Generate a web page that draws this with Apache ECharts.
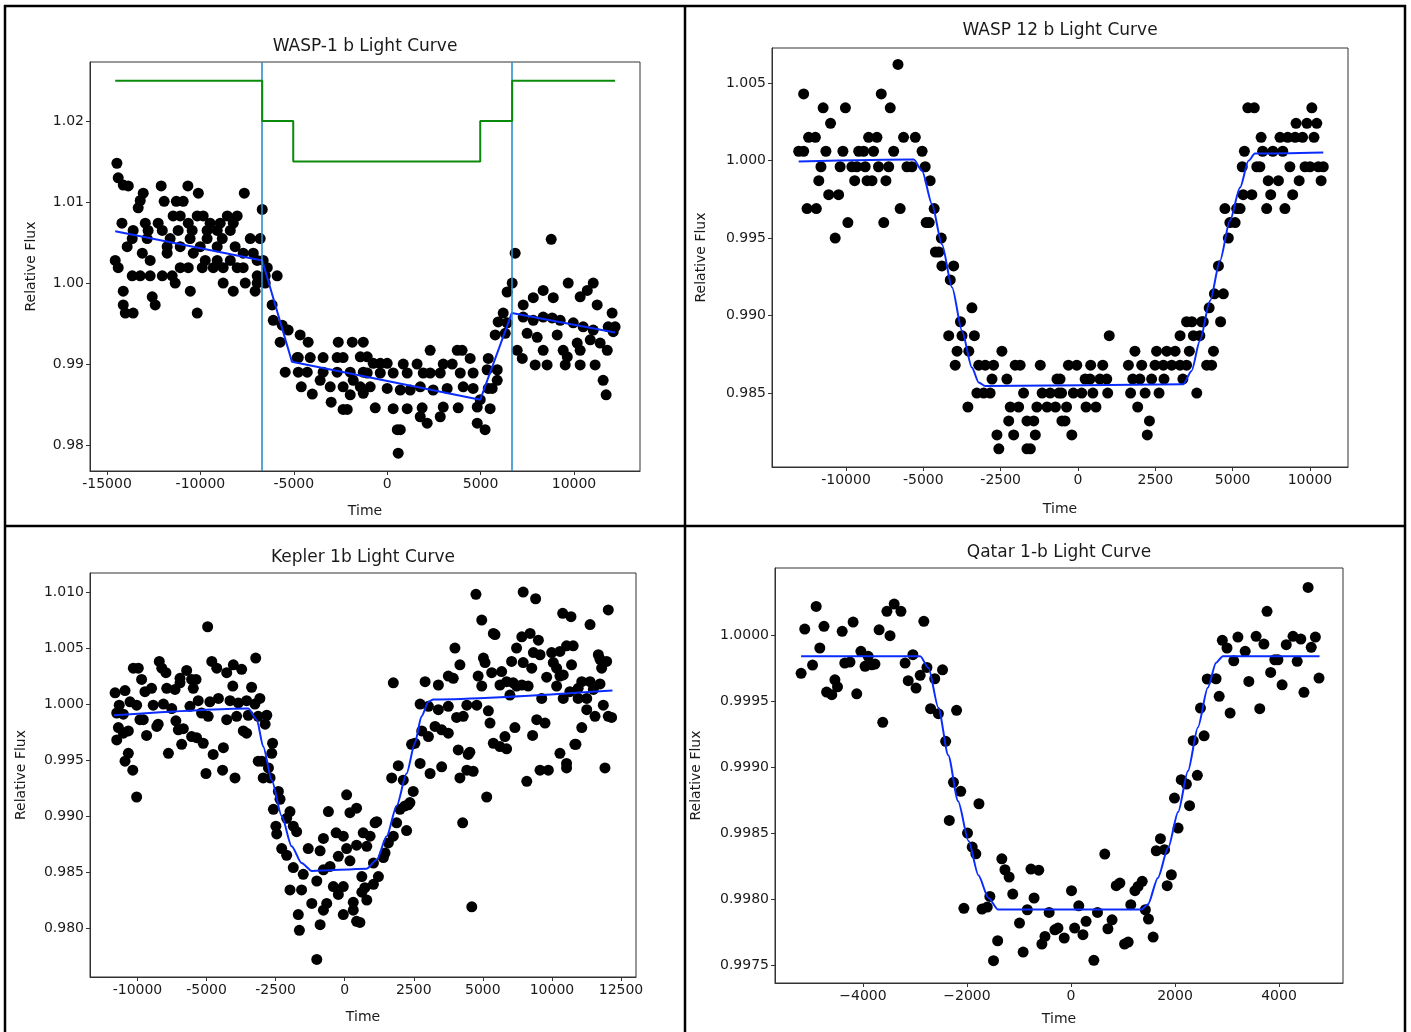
<!DOCTYPE html>
<html><head><meta charset="utf-8">
<script src="https://cdn.jsdelivr.net/npm/echarts@6/dist/echarts.min.js"></script>
<style>html,body{margin:0;padding:0;background:#fff}#c{width:1411px;height:1032px}</style>
</head><body><div id="c"></div>
<script>
// ---------- Panel 1: WASP-1 b ----------
const wasp1Title = 'WASP-1 b Light Curve';
const wasp1Points = [
[-14470,1.0148],[-14400,1.0130],[-14130,1.0121],[-13860,1.0120],[-12100,1.0120],[-10670,1.0120],
[-13060,1.0111],[-10110,1.0111],[-7650,1.0111],[-13220,1.0102],[-13330,1.0093],
[-11940,1.0101],[-11290,1.0101],[-10920,1.0101],[-6690,1.0091],
[-11460,1.0083],[-11080,1.0083],[-10170,1.0083],[-9850,1.0083],[-8560,1.0083],[-8030,1.0083],
[-14200,1.0074],[-12950,1.0074],[-12260,1.0074],[-10650,1.0074],[-9480,1.0074],[-8940,1.0074],[-8240,1.0074],
[-13600,1.0065],[-12800,1.0065],[-12040,1.0065],[-11190,1.0065],[-10440,1.0065],[-9640,1.0065],[-9100,1.0065],[-8400,1.0065],
[-13650,1.0055],[-12850,1.0055],[-11620,1.0055],[-10550,1.0055],[-9640,1.0055],[-8830,1.0055],[-7330,1.0055],[-6800,1.0055],
[-13920,1.0045],[-11780,1.0045],[-11080,1.0045],[-10010,1.0045],[-9100,1.0045],[-8140,1.0045],
[-13110,1.0037],[-11780,1.0037],[-10380,1.0037],[-7710,1.0037],[-7170,1.0037],
[-14560,1.0028],[-12690,1.0028],[-9740,1.0028],[-9100,1.0028],[-8400,1.0028],[-6960,1.0028],[-6640,1.0028],
[-14400,1.0019],[-11080,1.0019],[-10650,1.0019],[-9900,1.0019],[-9310,1.0019],[-8780,1.0019],[-8030,1.0019],[-7710,1.0019],[-6420,1.0019],
[-13650,1.0009],[-13220,1.0009],[-12690,1.0009],[-12040,1.0009],[-11510,1.0009],[-6960,1.0009],[-6530,1.0009],[-5890,1.0009],
[-11350,1.0000],[-8780,1.0000],[-7600,1.0000],[-6960,1.0000],[-6530,1.0000],
[-14130,0.9990],[-10540,0.9990],[-8240,0.9990],[-7070,0.9990],
[-12580,0.9983],[-12420,0.9973],[-14130,0.9973],[-14020,0.9963],[-13600,0.9963],[-10170,0.9963],[-6160,0.9973],
[-6100,0.9954],[-5620,0.9948],[-5300,0.9942],[-5730,0.9927],[-4660,0.9936],[-4230,0.9927],
[-4760,0.9908],[-4820,0.9908],[-4120,0.9908],[-3430,0.9908],[-2680,0.9908],[-2360,0.9908],
[-2620,0.9927],[-1870,0.9927],[-1280,0.9927],
[-5460,0.9890],[-4760,0.9890],[-4280,0.9890],[-3430,0.9890],[-2680,0.9890],[-1980,0.9890],[-1280,0.9890],
[-3590,0.9880],[-3050,0.9872],[-2360,0.9872],[-1820,0.9880],
[-4600,0.9872],[-4010,0.9863],[-3000,0.9853],[-2360,0.9844],[-2140,0.9844],[-1980,0.9862],[-1280,0.9864],
[-1440,0.9909],[-1070,0.9909],[-750,0.9901],[-370,0.9901],[0,0.9901],
[860,0.9900],[1600,0.9900],[3000,0.9900],[3480,0.9900],
[2300,0.9917],[3750,0.9917],[4010,0.9917],[4440,0.9907],
[5410,0.9907],[5350,0.9893],[5890,0.9893],[5890,0.9880],[5410,0.9870],[5620,0.9870],
[-1070,0.9889],[-370,0.9889],[320,0.9889],[1070,0.9889],[1930,0.9889],[2300,0.9889],[2840,0.9889],[3910,0.9889],[4600,0.9889],
[-1440,0.9872],[-910,0.9872],[0,0.9870],[700,0.9868],[1230,0.9868],[1770,0.9872],[2460,0.9868],[3210,0.9870],[4070,0.9872],[4600,0.9870],[4980,0.9856],
[-640,0.9846],[320,0.9845],[1070,0.9845],[1870,0.9846],[3000,0.9847],[3800,0.9846],[4820,0.9847],[5510,0.9845],
[1770,0.9835],[2140,0.9827],[2840,0.9835],[4820,0.9827],[5240,0.9819],[540,0.9819],[700,0.9819],[590,0.9790],
[6850,1.0037],[8780,1.0054],[6690,1.0000],[6420,0.9989],
[7280,0.9973],[7820,0.9982],[8350,0.9991],[8890,0.9982],[9690,1.0000],[10330,0.9983],[10710,0.9991],[11030,1.0000],[11240,0.9973],[12040,0.9963],[12200,0.9946],
[6210,0.9963],[5940,0.9952],[6420,0.9951],[5780,0.9936],[6320,0.9938],
[7280,0.9958],[7820,0.9954],[8350,0.9958],[8830,0.9957],[9260,0.9954],[9960,0.9951],[10490,0.9946],[11030,0.9942],[11830,0.9946],[12100,0.9940],
[7490,0.9938],[8030,0.9933],[9100,0.9936],[10170,0.9926],[10870,0.9930],[11400,0.9926],
[6960,0.9917],[7230,0.9907],[8350,0.9917],[9420,0.9917],[9640,0.9909],[10330,0.9917],[11780,0.9917],
[7920,0.9899],[8560,0.9899],[9530,0.9899],[10330,0.9899],[11130,0.9899],[11560,0.9880],[11720,0.9862]
];
const wasp1Model = [[-14560,1.0064],[-6690,1.0028],[-5100,0.9903],[4980,0.9856],[6670,0.9963],[12200,0.9939]];
const wasp1Phases = [[-14560,1.025],[-6690,1.025],[-6690,1.020],[-5030,1.020],[-5030,1.015],[4980,1.015],[4980,1.020],[6690,1.020],[6690,1.025],[12200,1.025]];
const wasp1Contacts = [-6690, 6690];
const wasp1XTicks = [-15000,-10000,-5000,0,5000,10000];
const wasp1YTicks = [0.98,0.99,1.00,1.01,1.02];

// ---------- Panel 2: WASP 12 b ----------
const wasp12Title = 'WASP 12 b Light Curve';
const wasp12Points = [
[-8870,1.0043],[-6360,1.0043],[-5820,1.0062],[-8240,1.0034],[-7520,1.0034],[-6070,1.0034],[-8000,1.0024],
[-8710,1.0015],[-8490,1.0015],[-6770,1.0015],[-6500,1.0015],[-5640,1.0015],[-5260,1.0015],
[-9030,1.0006],[-8870,1.0006],[-8150,1.0006],[-7600,1.0006],[-7090,1.0006],[-6930,1.0006],[-6610,1.0006],[-5960,1.0006],[-5040,1.0006],
[-8310,0.9996],[-7690,0.9996],[-7310,0.9996],[-7150,0.9996],[-6880,0.9996],[-6450,0.9996],[-6120,0.9996],[-5530,0.9996],[-5370,0.9996],[-4940,0.9996],
[-8380,0.9987],[-7220,0.9987],[-6820,0.9987],[-6660,0.9987],[-6210,0.9987],[-4780,0.9987],
[-8060,0.9978],[-7740,0.9978],[-8760,0.9969],[-8460,0.9969],[-5750,0.9969],[-4650,0.9969],
[-7440,0.9960],[-6280,0.9960],[-4910,0.9960],[-4810,0.9960],[-7850,0.9950],[-4420,0.9950],
[-4610,0.9941],[-4500,0.9941],[-4400,0.9932],[-4020,0.9932],[-4130,0.9923],[-3430,0.9905],[-3800,0.9896],
[-4180,0.9887],[-3750,0.9887],[-3350,0.9887],[-3910,0.9877],[-3530,0.9877],[-2460,0.9877],
[-3970,0.9868],[-3210,0.9868],[-3000,0.9868],[-2730,0.9868],[-2030,0.9868],[-1870,0.9868],[-1220,0.9868],
[-2780,0.9859],[-2300,0.9859],[-680,0.9859],
[-3270,0.9850],[-3050,0.9850],[-2840,0.9850],[-1760,0.9850],[-1160,0.9850],[-900,0.9850],[-620,0.9850],
[-3560,0.9841],[-2190,0.9841],[-1920,0.9841],[-1330,0.9841],[-1000,0.9841],[-730,0.9841],
[-2240,0.9832],[-1650,0.9832],[-1430,0.9832],[-520,0.9832],[-2620,0.9823],[-2080,0.9823],[-1380,0.9823],
[-2560,0.9814],[-1650,0.9814],[-1540,0.9814],
[-200,0.9823],[2240,0.9823],[-420,0.9832],[2310,0.9832],[-370,0.9841],[260,0.9841],[580,0.9841],[1930,0.9841],
[-530,0.9850],[-150,0.9850],[120,0.9850],[480,0.9850],[960,0.9850],[1700,0.9850],[2170,0.9850],[2620,0.9850],[3840,0.9850],
[-580,0.9859],[230,0.9859],[390,0.9859],[710,0.9859],[930,0.9859],[1770,0.9859],[2000,0.9859],[2380,0.9859],[2780,0.9859],[3390,0.9859],
[-310,0.9868],[-40,0.9868],[410,0.9868],[800,0.9868],[1630,0.9868],[2060,0.9868],[2490,0.9868],[2760,0.9868],[3030,0.9868],[3300,0.9868],[3510,0.9868],[4160,0.9868],[4320,0.9868],
[1840,0.9877],[2540,0.9877],[2870,0.9877],[3140,0.9877],[3600,0.9877],[4380,0.9877],
[1010,0.9887],[3300,0.9887],[3730,0.9887],[3940,0.9887],
[3510,0.9896],[3680,0.9896],[4000,0.9896],[4050,0.9896],[4610,0.9896],
[4240,0.9905],[4410,0.9914],[4700,0.9914],[4540,0.9932],[4860,0.9950],[4910,0.9960],[5080,0.9960],
[4750,0.9969],[5130,0.9969],[5240,0.9969],[6100,0.9969],[6690,0.9969],
[5340,0.9978],[5620,0.9978],[6230,0.9978],[6940,0.9978],
[6150,0.9987],[6480,0.9987],[7150,0.9987],[7860,0.9987],
[5310,0.9996],[5780,0.9996],[5880,0.9996],[6850,0.9996],[7340,0.9996],[7500,0.9996],[7770,0.9996],[7930,0.9996],
[5380,1.0006],[5970,1.0006],[6300,1.0006],[6620,1.0006],
[5920,1.0015],[6530,1.0015],[6780,1.0015],[7020,1.0015],[7260,1.0015],[7630,1.0015],
[7050,1.0024],[7400,1.0024],[7720,1.0024],[5490,1.0034],[5700,1.0034],[7560,1.0034]
];
const wasp12Model = [[-9030,0.99994],[-5310,1.00006],[-5040,0.99933],[-4720,0.99718],[-4400,0.99460],[-4070,0.99181],[-3750,0.98901],[-3430,0.98665],[-3210,0.98568],[-3000,0.98545],[3400,0.98557],[3670,0.98643],[3940,0.98837],[4270,0.99095],[4590,0.99353],[4910,0.99611],[5240,0.99826],[5510,0.99998],[5720,1.00045],[7930,1.00052]];
const wasp12XTicks = [-7500,-5000,-2500,0,2500,5000,7500];
const wasp12XLabels = ['-10000','-5000','-2500','0','2500','5000','10000'];
const wasp12YTicks = [0.985,0.990,0.995,1.000,1.005];

// ---------- Panel 3: Kepler 1b ----------
const kepler1Title = 'Kepler 1b Light Curve';
const kepler1Points = [
[-4960,1.0069],[-7650,1.0032],[-7470,1.0032],[-6710,1.0038],[-6620,1.0032],[-6470,1.0028],
[-5720,1.0030],[-5960,1.0023],[-5540,1.0022],[-5380,1.0022],[-7350,1.0022],
[-4810,1.0038],[-4630,1.0032],[-4270,1.0028],[-4030,1.0035],[-3730,1.0031],[-3220,1.0041],
[-8310,1.0010],[-7950,1.0012],[-7230,1.0011],[-6990,1.0014],[-6440,1.0014],[-6140,1.0013],[-5960,1.0019],[-5480,1.0014],
[-4050,1.0016],[-3370,1.0015],[-3070,1.0005],
[-8160,0.9999],[-7770,1.0002],[-7530,0.9999],[-6930,0.9999],[-6560,1.0000],[-6260,0.9996],
[-5600,0.9998],[-5300,1.0003],[-4880,1.0002],[-4570,1.0005],[-4150,1.0003],[-3850,1.0001],[-3550,1.0003],[-3250,1.0000],
[-8250,0.9992],[-8010,0.9991],[-7410,0.9986],[-7290,0.9986],[-6800,0.9980],[-6750,0.9982],[-6110,0.9985],[-5840,0.9978],[-5540,0.9971],
[-5180,0.9992],[-4940,0.9989],[-4270,0.9986],[-3910,0.9989],[-3490,0.9990],[-3130,0.9989],[-2820,0.9990],
[-8190,0.9979],[-8010,0.9974],[-7830,0.9976],[-7170,0.9972],[-6020,0.9977],[-5360,0.9970],[-5120,0.9965],[-3670,0.9976],[-3550,0.9974],[-2880,0.9982],
[-8250,0.9968],[-5900,0.9964],[-6380,0.9956],[-7830,0.9956],[-7950,0.9949],[-7670,0.9941],[-7530,0.9917],
[-4760,0.9955],[-4390,0.9961],[-5020,0.9938],[-4420,0.9941],[-3970,0.9934],
[-2610,0.9965],[-2640,0.9956],[-3130,0.9949],[-3000,0.9949],[-2760,0.9943],[-2950,0.9934],[-2700,0.9934],
[-2400,0.9922],[-2340,0.9915],[-2580,0.9906],[-1980,0.9904],[-2490,0.9891],[-2100,0.9898],[-1860,0.9891],[-1740,0.9886],
[-2460,0.9884],[-2280,0.9871],[-2100,0.9865],[-1860,0.9854],[-1500,0.9848],[-1980,0.9834],[-1560,0.9834],
[-1680,0.9812],[-1640,0.9798],[-1190,0.9822],[-890,0.9803],[-1010,0.9772],
[-1320,0.9871],[-890,0.9869],[-770,0.9852],[-1010,0.9842],[-530,0.9855],
[-770,0.9880],[-310,0.9885],[70,0.9919],[-590,0.9904],[190,0.9903],[430,0.9907],
[-50,0.9882],[70,0.9871],[430,0.9874],[-230,0.9864],[190,0.9860],
[-410,0.9837],[-50,0.9837],[-230,0.9830],[-650,0.9822],[310,0.9823],[-770,0.9816],[-50,0.9812],[430,0.9806],
[670,0.9885],[620,0.9846],[620,0.9832],[310,0.9816],
[4750,1.0098],[6460,1.0100],[6910,1.0094],[4960,1.0075],[5380,1.0063],[5440,1.0062],[3990,1.0050],[4170,1.0035],[1760,1.0019],
[2910,1.0020],[3390,1.0017],[3750,1.0025],[3930,1.0023],
[4830,1.0025],[4960,1.0016],[5320,1.0028],[5680,1.0029],[5860,1.0020],[6100,1.0019],[6410,1.0017],[6640,1.0016],
[5020,1.0041],[5080,1.0037],[6040,1.0038],[6220,1.0050],[6410,1.0060],[6710,1.0063],[7010,1.0057],[6460,1.0037],[6770,1.0032],
[6830,1.0046],[7070,1.0044],[7490,1.0046],[7790,1.0047],[8030,1.0052],[8270,1.0052],[7550,1.0037],[7670,1.0032],[7910,1.0026],[8210,1.0035],[7310,1.0024],
[7890,1.0081],[8190,1.0078],[8880,1.0071],[9540,1.0084],
[9180,1.0044],[9480,1.0038],[9300,1.0032],[9240,1.0040],
[7790,1.0025],[8580,1.0020],[8880,1.0020],[9240,1.0018],[8450,1.0014],[9000,1.0013],
[8150,1.0011],[7910,1.0005],[8450,1.0005],[8760,1.0005],[9360,0.9999],[7130,1.0005],
[7670,1.0016],[5980,1.0008],[5620,1.0017],[6220,1.0016],
[8760,0.9995],[9060,0.9989],[9540,0.9989],[9660,0.9988],
[6950,0.9986],[7250,0.9983],[6160,0.9979],[6800,0.9972],[8580,0.9979],
[5380,0.9965],[5800,0.9971],[5620,0.9962],[5860,0.9960],[8370,0.9964],[7790,0.9956],
[2730,1.0000],[3030,0.9998],[3390,0.9995],[3750,0.9998],[2790,0.9976],[3030,0.9971],[3270,0.9980],[3510,0.9977],[3750,0.9974],[4290,0.9989],[4050,0.9988],[4420,0.9999],[4780,0.9999],[5200,0.9994],[5260,0.9983],
[2420,0.9964],[2540,0.9965],[2730,0.9947],[3090,0.9938],[4110,0.9959],[4530,0.9957],[4470,0.9955],[3510,0.9944],[4170,0.9934],[4420,0.9941],[4650,0.9940],
[6590,0.9931],[7070,0.9941],[7370,0.9941],[8030,0.9947],[8030,0.9943],[8330,0.9964],[9420,0.9943],
[5140,0.9917],[4270,0.9894],[4600,0.9819],
[1940,0.9945],[1700,0.9934],[2120,0.9932],[2480,0.9922],[2300,0.9910],[2360,0.9912],[2180,0.9909],[2000,0.9906],[1880,0.9894],[2240,0.9887],
[1760,0.9882],[1580,0.9876],[1460,0.9867],[1400,0.9863],[1160,0.9895],[1100,0.9894],[920,0.9882],[800,0.9873],[1040,0.9858],[1220,0.9846],
[1040,0.9839],[730,0.9836],[800,0.9825],[550,0.9805]
];
const kepler1Model = [[-8350,0.9990],[-3490,0.9996],[-3180,0.9986],[-2950,0.9962],[-2640,0.9932],[-2280,0.9900],[-1920,0.9873],[-1560,0.9858],[-1190,0.9851],[800,0.9853],[1160,0.9861],[1520,0.9882],[1880,0.9909],[2240,0.9938],[2540,0.9965],[2780,0.9989],[3030,1.0002],[3210,1.0004],[9690,1.0012]];
const kepler1XTicks = [-7500,-5000,-2500,0,2500,5000,7500,10000];
const kepler1XLabels = ['-10000','-5000','-2500','0','2500','5000','10000','12500'];
const kepler1YTicks = [0.980,0.985,0.990,0.995,1.000,1.005,1.010];

// ---------- Panel 4: Qatar 1-b ----------
const qatar1Title = 'Qatar 1-b Light Curve';
const qatar1Points = [
[-4900,1.000217],[-5120,1.000045],[-4750,1.000066],[-4400,1.000028],[-4190,1.000098],[-4830,0.999902],[-4970,0.999773],[-5190,0.999710],
[-4350,0.999788],[-4250,0.999795],[-4040,0.999877],[-3960,0.999763],[-3830,0.999775],[-3770,0.999780],[-3900,0.999839],
[-4540,0.999661],[-4490,0.999608],[-4700,0.999568],[-4600,0.999548],[-4120,0.999555],[-3620,0.999339],
[-3690,1.000040],[-3480,0.999995],[-3540,1.000180],[-3400,1.000235],[-3270,1.000180],[-2830,1.000104],
[-3190,0.999788],[-3040,0.999851],[-3130,0.999654],[-2980,0.999598],[-2900,0.999695],
[-2770,0.999755],[-2620,0.999669],[-2470,0.999737],[-2700,0.999442],[-2550,0.999404],[-2200,0.999430],
[-2410,0.999195],[-2260,0.998884],[-2120,0.998816],[-1770,0.998722],[-2340,0.998596],
[-1990,0.998500],[-1900,0.998394],[-1830,0.998343],[-1330,0.998305],[-1270,0.998222],[-1190,0.998167],
[-1120,0.998038],[-1560,0.998020],[-2060,0.997930],[-1710,0.997924],[-1610,0.997939],
[-770,0.998227],[-620,0.998219],[-710,0.998008],[-840,0.997919],[-990,0.997818],[-1410,0.997684],[-920,0.997598],[-1490,0.997533],
[-420,0.997899],[-310,0.997767],[-500,0.997717],[-560,0.997659],
[-250,0.997780],[-130,0.997705],[70,0.997780],[230,0.997730],[290,0.997831],[10,0.998063],[150,0.997949],[510,0.997899],[440,0.997536],
[650,0.998341],[710,0.997775],[790,0.997843],[870,0.998101],[940,0.998121],[1030,0.997659],[1100,0.997674],[1150,0.997957],
[1230,0.998063],[1290,0.998096],[1370,0.998134],[1430,0.997919],[1490,0.997848],[1580,0.997712],
[1850,0.998101],[1930,0.998184],[1640,0.998366],[1720,0.998457],[1800,0.998374],[2060,0.998538],[2280,0.998707],[1990,0.998765],
[2120,0.998904],[2220,0.998871],[2430,0.998937],[2350,0.999200],[2560,0.999237],[2490,0.999447],
[2620,0.999667],[2790,0.999669],[2850,0.999536],[3060,0.999409],[2910,0.999960],[3000,0.999902],[3130,0.999805],
[3210,0.999985],[3350,0.999877],[3420,0.999649],[3560,0.999990],[3710,0.999932],[3630,0.999442],[3770,1.000180],
[3840,0.999717],[3920,0.999813],[3980,0.999813],[4060,0.999623],[4140,0.999927],[4270,0.999990],[4420,0.999970],
[4350,0.999801],[4480,0.999566],[4560,1.000361],[4620,0.999907],[4700,0.999985],[4770,0.999674]
];
const qatar1Model = [[-5190,0.99984],[-2900,0.99984],[-2740,0.99975],[-2550,0.99945],[-2360,0.99909],[-2170,0.99874],[-1970,0.99844],[-1780,0.99818],[-1590,0.99801],[-1400,0.99792],[1350,0.99792],[1480,0.99796],[1670,0.99816],[1870,0.99839],[2060,0.99866],[2250,0.99897],[2440,0.99930],[2630,0.99960],[2790,0.99979],[2920,0.99984],[4780,0.99984]];
const qatar1XTicks = [-4000,-2000,0,2000,4000];
const qatar1YTicks = [0.9975,0.9980,0.9985,0.9990,0.9995,1.0000];

// ---------- chart ----------
const FONT = "'DejaVu Sans', sans-serif";
const TXT = '#1a1a1a', AX = '#333';
const grids = [
  {left:90, top:62, width:550, height:409},
  {left:772, top:48, width:576, height:419},
  {left:90, top:573, width:546, height:404},
  {left:775, top:568, width:568, height:415}
].map(g => Object.assign({show:true, borderColor:AX, borderWidth:1, backgroundColor:'#fff'}, g));

function xAxis(gi, min, max, ticks, fmt, gap) {
  return {type:'value', gridIndex:gi, min, max, name:'Time', nameLocation:'middle', nameGap:gap,
    nameTextStyle:{fontSize:14, color:TXT, fontFamily:FONT},
    axisLine:{show:true, onZero:false, lineStyle:{color:AX, width:1}},
    axisTick:{show:true, customValues:ticks, length:4, lineStyle:{color:AX}},
    axisLabel:{customValues:ticks, formatter:fmt, fontSize:14, color:TXT, fontFamily:FONT, margin:6},
    splitLine:{show:false}};
}
function yAxis(gi, min, max, ticks, fmt, gap) {
  return {type:'value', gridIndex:gi, min, max, name:'Relative Flux', nameLocation:'middle', nameGap:gap, nameRotate:90,
    nameTextStyle:{fontSize:14, color:TXT, fontFamily:FONT},
    axisLine:{show:true, onZero:false, lineStyle:{color:AX, width:1}},
    axisTick:{show:true, customValues:ticks, length:4, lineStyle:{color:AX}},
    axisLabel:{customValues:ticks, formatter:fmt, fontSize:14, color:TXT, fontFamily:FONT, margin:6},
    splitLine:{show:false}};
}
const lbl = (ticks, labels) => v => { const i = ticks.findIndex(t => Math.abs(t - v) < 1e-6); return i >= 0 ? labels[i] : ''; };
const minusFmt = v => (v < 0 ? '\u2212' + Math.abs(v) : String(v));

const scatter = (i, data) => ({type:'scatter', xAxisIndex:i, yAxisIndex:i, data, symbolSize:11, itemStyle:{color:'#000', opacity:1}, z:2, silent:true});
const model = (i, data, smooth) => ({type:'line', xAxisIndex:i, yAxisIndex:i, data, showSymbol:false, smooth:smooth ? 0.25 : false, smoothMonotone:'x', lineStyle:{color:'#0a2cff', width:2}, z:4, silent:true});

const option = {
  animation:false,
  backgroundColor:'#fff',
  grid:grids,
  xAxis:[
    xAxis(0, -15910, 13533, wasp1XTicks, v => String(v), 33),
    xAxis(1, -9893, 8729, wasp12XTicks, lbl(wasp12XTicks, wasp12XLabels), 35),
    xAxis(2, -9218, 10543, kepler1XTicks, lbl(kepler1XTicks, kepler1XLabels), 33),
    xAxis(3, -5692, 5231, qatar1XTicks, minusFmt, 29)
  ],
  yAxis:[
    yAxis(0, 0.9768, 1.0273, wasp1YTicks, v => v.toFixed(2), 52),
    yAxis(1, 0.98023, 1.00726, wasp12YTicks, v => v.toFixed(3), 64),
    yAxis(2, 0.97563, 1.0117, kepler1YTicks, v => v.toFixed(3), 62),
    yAxis(3, 0.997364, 1.000508, qatar1YTicks, v => v.toFixed(4), 72)
  ],
  series:[
    scatter(0, wasp1Points),
    model(0, wasp1Model, false),
    {type:'line', xAxisIndex:0, yAxisIndex:0, data:wasp1Phases, showSymbol:false, lineStyle:{color:'#0a8a0a', width:2}, z:5, silent:true,
     markLine:{symbol:'none', silent:true, label:{show:false}, lineStyle:{color:'#2d8fcc', width:1.6, type:'solid'},
       data:wasp1Contacts.map(t => ({xAxis:t}))}},
    scatter(1, wasp12Points), model(1, wasp12Model, true),
    scatter(2, kepler1Points), model(2, kepler1Model, true),
    scatter(3, qatar1Points), model(3, qatar1Model, true)
  ],
  graphic:[
    {type:'text', x:365, y:47, style:{text:wasp1Title, font:"17px 'DejaVu Sans'", fill:TXT, textAlign:'center', textVerticalAlign:'middle'}},
    {type:'text', x:1060, y:31, style:{text:wasp12Title, font:"17px 'DejaVu Sans'", fill:TXT, textAlign:'center', textVerticalAlign:'middle'}},
    {type:'text', x:363, y:558, style:{text:kepler1Title, font:"17px 'DejaVu Sans'", fill:TXT, textAlign:'center', textVerticalAlign:'middle'}},
    {type:'text', x:1059, y:553, style:{text:qatar1Title, font:"17px 'DejaVu Sans'", fill:TXT, textAlign:'center', textVerticalAlign:'middle'}},
    {type:'line', shape:{x1:5, y1:5, x2:5, y2:1032}, style:{stroke:'#000', lineWidth:2.5}},
    {type:'line', shape:{x1:4, y1:6, x2:1406, y2:6}, style:{stroke:'#000', lineWidth:2.5}},
    {type:'line', shape:{x1:1405, y1:5, x2:1405, y2:1032}, style:{stroke:'#000', lineWidth:2.5}},
    {type:'line', shape:{x1:685, y1:5, x2:685, y2:1032}, style:{stroke:'#000', lineWidth:2.5}},
    {type:'line', shape:{x1:4, y1:526, x2:1406, y2:526}, style:{stroke:'#000', lineWidth:2.5}}
  ]
};
const chart = echarts.init(document.getElementById('c'), null, {renderer:'canvas'});
chart.setOption(option);
</script></body></html>
